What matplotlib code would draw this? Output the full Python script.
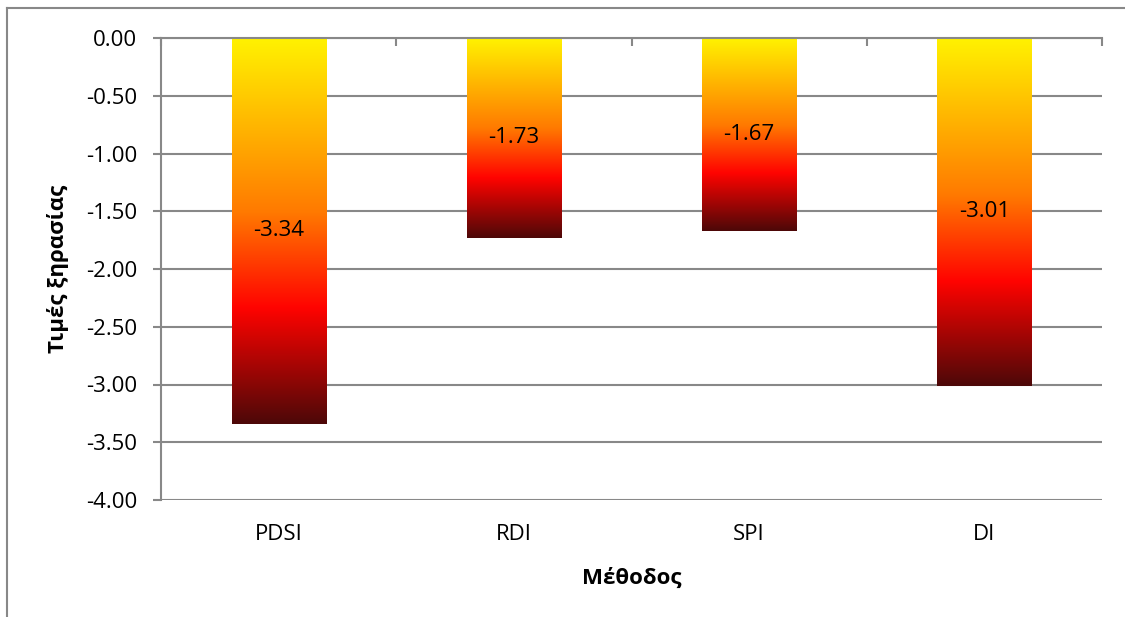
import matplotlib.pyplot as plt
import numpy as np
from matplotlib.colors import LinearSegmentedColormap
from matplotlib.lines import Line2D

methods = ['PDSI', 'RDI', 'SPI', 'DI']
values = [-3.34, -1.73, -1.67, -3.01]
yticks = [0.0, -0.5, -1.0, -1.5, -2.0, -2.5, -3.0, -3.5, -4.0]

plt.rcParams['font.family'] = ['Open Sans', 'DejaVu Sans']
FS = 16

# Excel "Fire" preset gradient, top of bar -> bottom of bar
fire = LinearSegmentedColormap.from_list(
    'fire', [(0.0, '#FFF200'), (0.45, '#FF7A00'), (0.70, '#FF0300'), (1.0, '#4D0808')])

fig = plt.figure(figsize=(11.25, 6.17), dpi=100)
ax = fig.add_axes([161 / 1125, 1 - 500 / 617, (1102 - 161) / 1125, (500 - 38) / 617])

x = np.arange(len(methods))
bars = ax.bar(x, values, width=0.40, color='none', edgecolor='none', zorder=3)

grad = np.linspace(0, 1, 256).reshape(-1, 1)
for b, v in zip(bars, values):
    x0 = b.get_x()
    w = b.get_width()
    im = ax.imshow(grad, cmap=fire, aspect='auto', origin='upper',
                   extent=[x0, x0 + w, v, 0], zorder=3)
    im.set_clip_path(b)
    ax.text(x0 + w / 2, v / 2, '{:.2f}'.format(v), ha='center', va='center',
            fontsize=FS, color='black', zorder=4)

ax.set_xlim(-0.5, len(methods) - 0.5)
ax.set_ylim(-4.0, 0.0)
ax.set_yticks(yticks)
ax.set_yticklabels(['{:.2f}'.format(t) for t in yticks], fontsize=FS)
ax.set_xticks(x)
ax.set_xticklabels(methods, fontsize=FS)
ax.set_xticks(np.arange(len(methods) + 1) - 0.5, minor=True)

ax.tick_params(axis='x', which='major', length=0, pad=17)
ax.tick_params(axis='x', which='minor', bottom=False, top=True, direction='in',
               length=6, width=1.5, color='#888888')
ax.tick_params(axis='y', length=6, width=1.5, color='#888888', pad=11)

ax.grid(axis='y', color='#888888', linewidth=1.5, zorder=0)
ax.set_axisbelow(True)
for s in ['right', 'bottom']:
    ax.spines[s].set_visible(False)
for s in ['left', 'top']:
    ax.spines[s].set_color('#888888')
    ax.spines[s].set_linewidth(1.5)
    ax.spines[s].set_zorder(5)

ax.set_xlabel('Μέθοδος', fontsize=FS, fontweight='bold', va='center')
ax.set_ylabel('Τιμές ξηρασίας', fontsize=FS, fontweight='bold', va='center')
ax.xaxis.set_label_coords(0.5, (500 - 578) / 462)
ax.yaxis.set_label_coords((58 - 161) / 941, 0.5)

# outer chart frame (cut off at right and bottom)
fig.add_artist(Line2D([7 / 1125, 7 / 1125], [0, 1 - 8 / 617], transform=fig.transFigure,
                      color='#888888', linewidth=1.5))
fig.add_artist(Line2D([7 / 1125, 1], [1 - 8 / 617, 1 - 8 / 617], transform=fig.transFigure,
                      color='#888888', linewidth=1.5))

fig.savefig('out.png', dpi=100)
